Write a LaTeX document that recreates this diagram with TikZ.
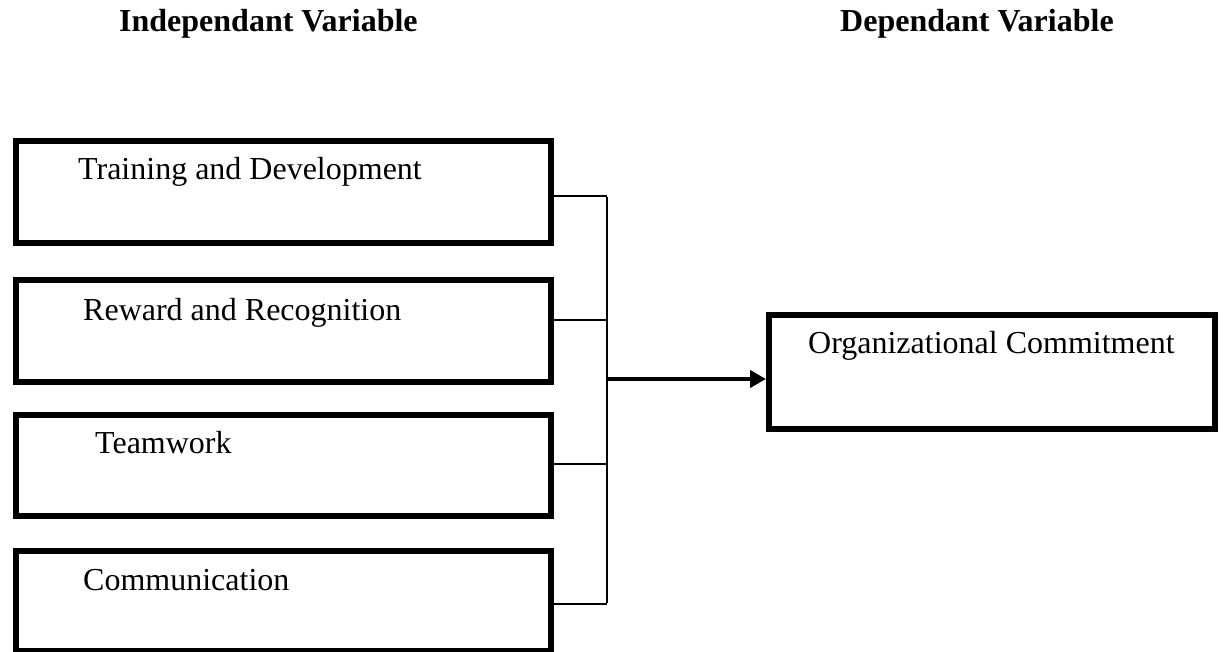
\documentclass[tikz,border=0pt]{standalone}
\usepackage{fontspec}
\setmainfont{Liberation Serif}
\usetikzlibrary{arrows.meta}
\begin{document}
\begin{tikzpicture}[x=1pt,y=-1pt,
  varbox/.style={draw=black,line width=6pt,rectangle,inner sep=0pt,anchor=north west},
  lbl/.style={anchor=base west,inner sep=0pt,font=\fontsize{32}{38}\selectfont},
  ttl/.style={anchor=base west,inner sep=0pt,font=\fontsize{32}{38}\selectfont\bfseries},
  conn/.style={draw=black,line width=1.8pt},
  arr/.style={draw=black,line width=4pt,-{Triangle[length=16pt,width=17pt]}}]
\useasboundingbox (0,0) rectangle (1226,652);
% titles
\node[ttl] (t1) at (119,32) {Independant Variable};
\node[ttl] (t2) at (840,32) {Dependant Variable};
% boxes
\node[varbox,minimum width=535pt,minimum height=102pt] (b1) at (13,138) {};
\node[varbox,minimum width=535pt,minimum height=102pt] (b2) at (13,277) {};
\node[varbox,minimum width=535pt,minimum height=101pt] (b3) at (13,412) {};
\node[varbox,minimum width=535pt,minimum height=100pt] (b4) at (13,548) {};
\node[varbox,minimum width=446pt,minimum height=114pt] (oc) at (766,312) {};
% labels
\node[lbl] (l1) at (78,180) {Training and Development};
\node[lbl] (l2) at (83,320) {Reward and Recognition};
\node[lbl] (l3) at (95,453) {Teamwork};
\node[lbl] (l4) at (83,590) {Communication};
\node[lbl] (l5) at (808,353) {Organizational Commitment};
% junctions
\coordinate (j1) at (607,196);
\coordinate (j2) at (607,320);
\coordinate (j3) at (607,464);
\coordinate (j4) at (607,604);
\coordinate (ja) at (607,379);
\draw[conn] (b1.east |- j1) -- (j1);
\draw[conn] (b2.east |- j2) -- (j2);
\draw[conn] (b3.east |- j3) -- (j3);
\draw[conn] (b4.east |- j4) -- (j4);
\draw[conn] ([yshift=-0.9pt]j1) -- ([yshift=0.9pt]j4);
\draw[arr] (ja) -- (oc.west |- ja);
\end{tikzpicture}
\end{document}
